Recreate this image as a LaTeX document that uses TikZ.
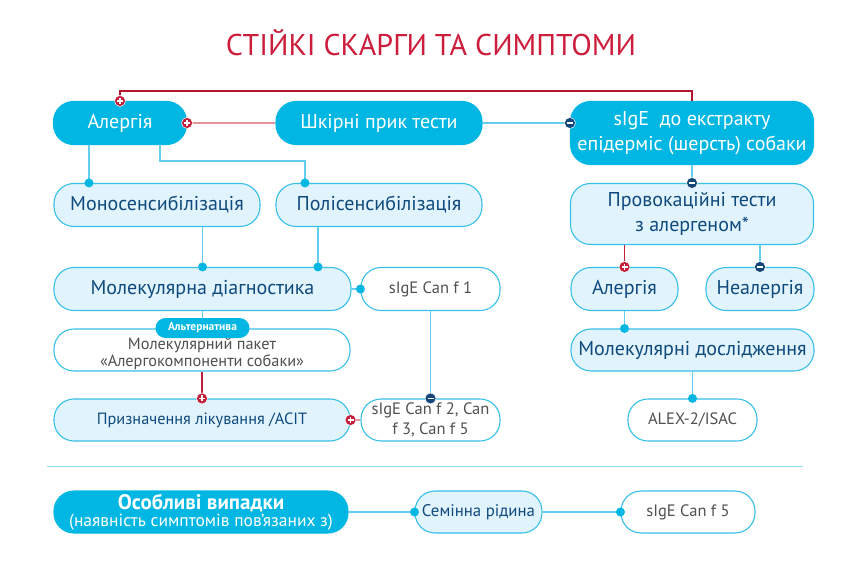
\documentclass[tikz,border=0pt]{standalone}
\usepackage{fontspec}
\setmainfont{PT Sans}
\usetikzlibrary{positioning}

\definecolor{algcyan}{HTML}{00B7E3}
\definecolor{alglight}{HTML}{E1F3FC}
\definecolor{algborder}{HTML}{38C0E8}
\definecolor{algline}{HTML}{62CDEC}
\definecolor{algblue}{HTML}{0F4A7D}
\definecolor{alggrey}{HTML}{505050}
\definecolor{algred}{HTML}{C21F3A}
\definecolor{algdark}{HTML}{B3162F}
\definecolor{algpink}{HTML}{E3949E}
\definecolor{algminus}{HTML}{13467A}
\definecolor{algtitle}{HTML}{CC1E3C}

\begin{document}
\begin{tikzpicture}[x=1pt,y=-1pt,
    box/.style={rectangle,rounded corners=20pt,inner sep=0pt,minimum height=43pt,align=center,line width=1.1pt},
    darkbox/.style={box,fill=algcyan,draw=algcyan,text=white,font=\fontsize{20}{25}\selectfont},
    lightbox/.style={box,fill=alglight,draw=algborder,text=algblue,font=\fontsize{20}{25}\selectfont},
    whitebox/.style={box,fill=white,draw=algborder,text=alggrey,font=\fontsize{16.5}{20}\selectfont},
    badge/.style={rectangle,rounded corners=10pt,fill=algcyan,text=white,inner sep=0pt,minimum width=94pt,minimum height=20pt,font=\bfseries\fontsize{11.5}{12}\selectfont},
    cyanline/.style={draw=algline,line width=1.5pt},
    redline/.style={draw=algred,line width=1.3pt},
    pinkline/.style={draw=algpink,line width=1.8pt},
    dot/.style={circle,fill=algcyan,inner sep=0pt,minimum size=9pt},
    plusmark/.style={circle,fill=algred,draw=white,line width=0.5pt,inner sep=0pt,minimum size=11pt,
      path picture={\draw[white,line width=1.4pt] ([xshift=-3pt]path picture bounding box.center) -- ([xshift=3pt]path picture bounding box.center)
        ([yshift=-3pt]path picture bounding box.center) -- ([yshift=3pt]path picture bounding box.center);}},
    minusmark/.style={circle,fill=algminus,draw=white,line width=0.5pt,inner sep=0pt,minimum size=11pt,
      path picture={\draw[white,line width=1.4pt] ([xshift=-3pt]path picture bounding box.center) -- ([xshift=3pt]path picture bounding box.center);}}
  ]
    \useasboundingbox (0,0) rectangle (861,569);

    % Title
    \node[text=algtitle,font=\fontsize{30}{32}\selectfont] (title) at (431,43) {СТІЙКІ СКАРГИ ТА СИМПТОМИ};

    % Top row
    \node[darkbox,minimum width=133pt] (alg) at (120,123) {Алергія};
    \node[darkbox,minimum width=206pt] (shk) at (379,123) {Шкірні прик тести};
    \node[darkbox,minimum width=243pt,minimum height=63pt] (sige) at (692,133) {sIgE~~до екстракту\\епідерміс (шерсть) собаки};

    % Second row
    \node[lightbox,minimum width=206pt] (mono) at (157,205) {Моносенсибілізація};
    \node[lightbox,minimum width=206pt] (poly) at (379,205) {Полісенсибілізація};
    \node[lightbox,minimum width=243pt,minimum height=61pt] (prov) at (692,214) {Провокаційні тести\\з алергеном*};

    % Third row
    \node[lightbox,minimum width=297pt] (mol) at (202.5,289) {Молекулярна діагностика};
    \node[whitebox,minimum width=139pt] (can1) at (430.5,289) {sIgE Can f 1};
    \node[lightbox,minimum width=107pt] (algr) at (624.5,289) {Алергія};
    \node[lightbox,minimum width=108pt] (neal) at (760,289) {Неалергія};

    % Fourth row (text of the package set a little lower, under the badge)
    \node[whitebox,minimum width=296pt,minimum height=42pt] (pack) at (202,350) {};
    \node[text=alggrey,align=center,inner sep=0pt,font=\fontsize{16.3}{17}\selectfont] (packtext) at ([yshift=-4pt]pack.center) {Молекулярний пакет\\«Алергокомпоненти собаки»};
    \node[badge] (alt) at (202.5,328) {Альтернатива};
    \node[lightbox,minimum width=243pt,minimum height=42pt] (dosl) at (692.5,350) {Молекулярні дослідження};

    % Fifth row
    \node[lightbox,minimum width=296pt,minimum height=42pt,font=\fontsize{16.3}{18}\selectfont] (treat) at (202,420) {Призначення лікування /ACIT};
    \node[whitebox,minimum width=139pt,minimum height=42pt] (can2) at (430.5,420) {sIgE Can f 2, Can\\f 3, Can f 5};
    \node[whitebox,minimum width=129pt,minimum height=42pt] (alex) at (692.5,420) {ALEX-2/ISAC};

    % Separator
    \draw[draw=algline!70,line width=1pt] (47,466) -- (803,466);

    % Special cases
    \node[darkbox,minimum width=294pt,minimum height=42pt,font=\fontsize{17.5}{17}\selectfont] (spec) at (201,512) {{\bfseries\fontsize{21}{17}\selectfont Особливі випадки}\\(наявність симптомів пов’язаних з)};
    \node[lightbox,minimum width=127pt,minimum height=42pt,font=\fontsize{16.8}{18}\selectfont] (sem) at (478.5,512) {Семінна рідина};
    \node[whitebox,minimum width=134pt,minimum height=42pt] (canf5) at (688,512) {sIgE Can f 5};

    % Connectors (cyan)
    \draw[cyanline] (shk.east) -- (sige.west |- shk.east);
    \draw[cyanline] ([xshift=-31pt]alg.south) -- ([xshift=-68pt]mono.north);
    \draw[cyanline] ([xshift=40pt]alg.south) -- ++(0,16) -| ([xshift=-74pt]poly.north);
    \draw[cyanline] (mono.south -| mol.north) -- (mol.north);
    \draw[cyanline] ([xshift=-61pt]poly.south) -- ([xshift=-61pt]poly.south |- mol.north);
    \draw[cyanline] (mol.east) -- (can1.west);
    \draw[cyanline] (mol.south) -- (alt.north);
    \draw[cyanline] (can1.south) -- (can2.north);
    \draw[cyanline] (sige.south) -- (prov.north);
    \draw[cyanline] (prov.south -| neal.north) -- (neal.north);
    \draw[cyanline] (algr.south) -- (algr.south |- dosl.north);
    \draw[cyanline] (dosl.south) -- (alex.north);
    \draw[cyanline] (spec.east) -- (sem.west);
    \draw[cyanline] (sem.east) -- (canf5.west);

    % Connectors (red)
    \draw[redline,draw=algdark] (alg.north) -- ++(0,-10) -| (sige.north);
    \draw[pinkline] (alg.east) -- (shk.west);
    \draw[redline] (pack.south) -- (treat.north);
    \draw[pinkline] (can2.west) -- (treat.east);
    \draw[redline] (prov.south -| algr.north) -- (algr.north);

    % Dots
    \node[dot] (d1) at ([xshift=-68pt]mono.north) {};
    \node[dot] (d2) at ([xshift=-74pt]poly.north) {};
    \node[dot] (d3) at (mol.north) {};
    \node[dot] (d4) at ([xshift=-61pt]poly.south |- mol.north) {};
    \node[dot] (d5) at (can1.west) {};
    \node[dot] (d6) at (algr.south |- dosl.north) {};
    \node[dot] (d7) at (alex.north) {};
    \node[dot] (d8) at (sem.west) {};
    \node[dot] (d9) at (canf5.west) {};

    % Plus and minus marks
    \node[plusmark] (p1) at (alg.north) {};
    \node[plusmark] (p2) at (alg.east) {};
    \node[plusmark] (p3) at (treat.north) {};
    \node[plusmark] (p4) at (treat.east) {};
    \node[plusmark] (p5) at (algr.north) {};
    \node[minusmark] (m1) at (sige.west |- shk.east) {};
    \node[minusmark] (m2) at (prov.north) {};
    \node[minusmark] (m3) at (neal.north) {};
    \node[minusmark] (m4) at (can2.north) {};
  \end{tikzpicture}
\end{document}
